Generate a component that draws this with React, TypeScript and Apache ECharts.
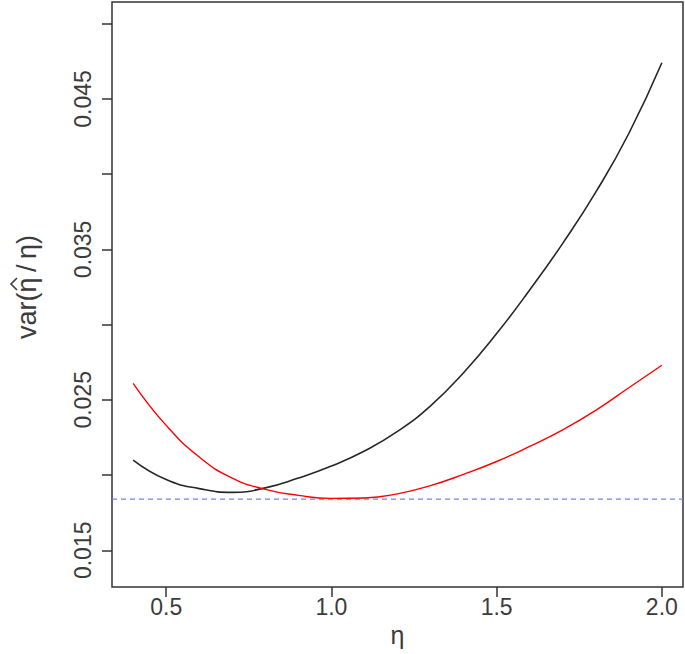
import React, { useEffect, useRef } from "react";
import * as echarts from "echarts";

const etaValues = [0.4, 0.5, 0.6, 0.7, 0.8, 0.9, 1.0, 1.1, 1.2, 1.3, 1.4, 1.5, 1.6, 1.7, 1.8, 1.9, 2.0];
const blackValues = [0.021, 0.0197, 0.0191, 0.01885, 0.01915, 0.0198, 0.0206, 0.0216, 0.0229, 0.0246, 0.0268, 0.0294, 0.0323, 0.0354, 0.0388, 0.0427, 0.0474];
const redValues = [0.0261, 0.0233, 0.0212, 0.0198, 0.01905, 0.01865, 0.01845, 0.01848, 0.01875, 0.0193, 0.02005, 0.0209, 0.0219, 0.023, 0.0243, 0.0258, 0.0273];
const refLevel = 0.0184;
const xTicks = [0.5, 1.0, 1.5, 2.0];
const yTicks = [0.015, 0.02, 0.025, 0.03, 0.035, 0.04, 0.045, 0.05];
const yLabelValues = [0.015, 0.025, 0.035, 0.045];
const xMin = 0.336;
const xMax = 2.064;

const FONT = "Liberation Sans, Arial, sans-serif";
const TEXT = "#3c3c3c";

export default function App() {
  const ref = useRef<HTMLDivElement>(null);
  useEffect(() => {
    if (!ref.current) return;
    const chart = echarts.init(ref.current, undefined, { renderer: "svg" });
    const blackData = etaValues.map((x, i) => [x, blackValues[i]]);
    const redData = etaValues.map((x, i) => [x, redValues[i]]);
    const refData = [
      [xMin, refLevel],
      [xMax, refLevel],
    ];
    chart.setOption({
      animation: false,
      backgroundColor: "#ffffff",
      grid: {
        left: 112,
        right: 2,
        top: 2,
        bottom: 67,
        show: true,
        borderColor: "#333333",
        borderWidth: 1.5,
        backgroundColor: "transparent",
      },
      xAxis: {
        type: "value",
        min: xMin,
        max: xMax,
        axisLine: { show: false },
        splitLine: { show: false },
        axisTick: { show: true, length: 10, customValues: xTicks, lineStyle: { color: "#333333", width: 1.5 } },
        axisLabel: {
          customValues: xTicks,
          formatter: (v: number) => v.toFixed(1),
          fontSize: 23,
          fontFamily: FONT,
          color: TEXT,
          margin: 8,
        },
        name: "η",
        nameLocation: "middle",
        nameGap: 32,
        nameTextStyle: { fontSize: 25, fontFamily: FONT, color: TEXT },
      },
      yAxis: {
        type: "value",
        min: 0.01256,
        max: 0.05144,
        axisLine: { show: false },
        splitLine: { show: false },
        axisTick: { show: true, length: 10, customValues: yTicks, lineStyle: { color: "#333333", width: 1.5 } },
        axisLabel: {
          customValues: yLabelValues,
          formatter: (v: number) => v.toFixed(3),
          rotate: 90,
          fontSize: 23,
          fontFamily: FONT,
          color: TEXT,
          margin: 18,
        },
      },
      graphic: [
        {
          type: "group",
          x: 35,
          y: 287,
          rotation: Math.PI / 2,
          children: [
            {
              type: "text",
              x: 0,
              y: 5,
              style: {
                text: "var(η\u2009/\u2009η)",
                fontSize: 27,
                fontFamily: FONT,
                fill: TEXT,
                textAlign: "center",
                textVerticalAlign: "bottom",
              },
            },
            {
              type: "polyline",
              shape: {
                points: [
                  [-3, -18],
                  [3, -24],
                  [9, -18],
                ],
              },
              style: { stroke: TEXT, lineWidth: 1.6, fill: "none" },
            },
          ],
        },
      ],
      series: [
        {
          type: "line",
          data: refData,
          symbol: "none",
          lineStyle: { color: "#6f84ee", width: 1.4, type: [5, 4] },
          z: 2,
        },
        {
          type: "line",
          data: blackData,
          smooth: 0.5,
          symbol: "none",
          lineStyle: { color: "#262626", width: 1.6 },
          z: 3,
        },
        {
          type: "line",
          data: redData,
          smooth: 0.5,
          symbol: "none",
          lineStyle: { color: "#ff0000", width: 1.4 },
          z: 4,
        },
      ],
    });
    return () => chart.dispose();
  }, []);
  return (
    <div
      ref={ref}
      style={{ position: "fixed", left: 0, top: 0, width: 685, height: 654, background: "#fff" }}
    />
  );
}
